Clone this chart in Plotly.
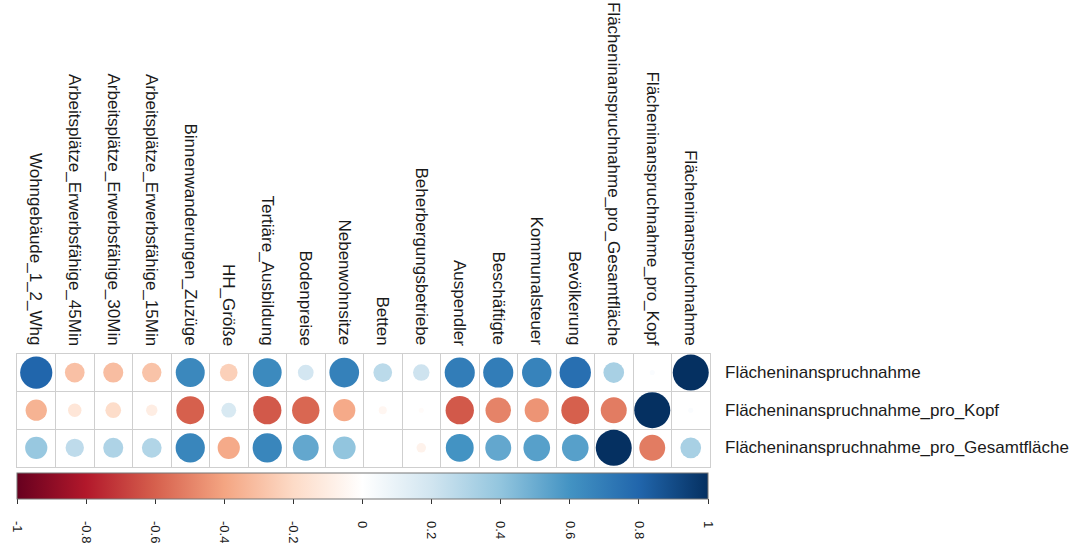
import plotly.graph_objects as go

# Variables shown along the columns of the correlation grid
COLUMNS = [
    "Wohngebäude_1_2_Whg",
    "Arbeitsplätze_Erwerbsfähige_45Min",
    "Arbeitsplätze_Erwerbsfähige_30Min",
    "Arbeitsplätze_Erwerbsfähige_15Min",
    "Binnenwanderungen_Zuzüge",
    "HH_Größe",
    "Tertiäre_Ausbildung",
    "Bodenpreise",
    "Nebenwohnsitze",
    "Betten",
    "Beherbergungsbetriebe",
    "Auspendler",
    "Beschäftigte",
    "Kommunalsteuer",
    "Bevölkerung",
    "Flächeninanspruchnahme_pro_Gesamtfläche",
    "Flächeninanspruchnahme_pro_Kopf",
    "Flächeninanspruchnahme",
]

# Target variables shown along the rows
ROWS = [
    "Flächeninanspruchnahme",
    "Flächeninanspruchnahme_pro_Kopf",
    "Flächeninanspruchnahme_pro_Gesamtfläche",
]

# Correlation coefficients, one list per row (same order as COLUMNS)
CORR_FLAECHE = [0.80, -0.30, -0.31, -0.29, 0.65, -0.24, 0.64, 0.19, 0.68, 0.27,
                0.21, 0.70, 0.70, 0.67, 0.76, 0.33, 0.02, 1.00]
CORR_KOPF = [-0.35, -0.14, -0.19, -0.10, -0.60, 0.17, -0.62, -0.58, -0.38, -0.05,
             -0.02, -0.62, -0.50, -0.45, -0.60, -0.52, 1.00, 0.02]
CORR_GESAMT = [0.38, 0.26, 0.31, 0.30, 0.66, -0.38, 0.66, 0.52, 0.40, 0.00,
               -0.07, 0.60, 0.52, 0.55, 0.55, 1.00, -0.52, 0.33]
CORR_ROWS = [CORR_FLAECHE, CORR_KOPF, CORR_GESAMT]

# Colour bar ticks
CBAR_TICKS = [-1, -0.8, -0.6, -0.4, -0.2, 0, 0.2, 0.4, 0.6, 0.8, 1]
CBAR_LABELS = ["-1", "-0.8", "-0.6", "-0.4", "-0.2", "0", "0.2", "0.4", "0.6", "0.8", "1"]

# ColorBrewer RdBu (diverging), dark red at -1 to dark blue at +1
RDBU = ["#67001F", "#B2182B", "#D6604D", "#F4A582", "#FDDBC7", "#FFFFFF",
        "#D1E5F0", "#92C5DE", "#4393C3", "#2166AC", "#053061"]
COLORSCALE = [[i / (len(RDBU) - 1), c] for i, c in enumerate(RDBU)]

W, H = 1080, 544
GRID_LEFT, GRID_RIGHT = 17, 710
GRID_TOP, GRID_BOTTOM = 357, 471
MAX_DIAM = 36  # circle diameter (px) for |r| = 1
FONT = "Liberation Sans, Arial, sans-serif"
TEXT_COLOR = "#1a1a1a"
GRID_COLOR = "#cfcfcf"

xs, ys, vals, sizes = [], [], [], []
for ri, row_vals in enumerate(CORR_ROWS):
    for ci, v in enumerate(row_vals):
        xs.append(ci + 1)
        ys.append(ri + 1)
        vals.append(v)
        # circle area proportional to |r|
        sizes.append(MAX_DIAM * abs(v) ** 0.5)

pad = "\u00a0" * 4
fig = go.Figure(
    go.Scatter(
        x=xs,
        y=ys,
        mode="markers",
        hoverinfo="text",
        text=[f"{v:.2f}" for v in vals],
        marker=dict(
            size=sizes,
            opacity=1,
            color=vals,
            colorscale=COLORSCALE,
            cmin=-1,
            cmax=1,
            line=dict(width=0),
            showscale=True,
            colorbar=dict(
                orientation="h",
                x=GRID_LEFT / W,
                xanchor="left",
                y=1 - 477 / H,
                yanchor="top",
                lenmode="pixels",
                len=GRID_RIGHT - GRID_LEFT - 2,
                thickness=26,
                xpad=0,
                ypad=0,
                outlinewidth=1,
                outlinecolor="#777777",
                tickmode="array",
                tickvals=CBAR_TICKS,
                ticktext=[pad + t for t in CBAR_LABELS],
                ticks="outside",
                ticklen=5,
                tickcolor="#333333",
                tickangle=90,
                tickfont=dict(family=FONT, size=13, color=TEXT_COLOR),
            ),
        ),
    )
)

n_cols, n_rows = len(COLUMNS), len(ROWS)
fig.update_xaxes(
    domain=[GRID_LEFT / W, GRID_RIGHT / W],
    range=[0.5, n_cols + 0.5],
    tickmode="array",
    tickvals=[i + 0.5 for i in range(n_cols + 1)],
    showticklabels=False,
    ticks="",
    showgrid=True,
    gridcolor=GRID_COLOR,
    gridwidth=1,
    zeroline=False,
    showline=True,
    linecolor=GRID_COLOR,
    mirror=True,
    fixedrange=True,
)
fig.update_yaxes(
    domain=[1 - GRID_BOTTOM / H, 1 - GRID_TOP / H],
    range=[n_rows + 0.5, 0.5],
    tickmode="array",
    tickvals=[i + 0.5 for i in range(n_rows + 1)],
    showticklabels=False,
    ticks="",
    showgrid=True,
    gridcolor=GRID_COLOR,
    gridwidth=1,
    zeroline=False,
    showline=True,
    linecolor=GRID_COLOR,
    mirror=True,
    fixedrange=True,
)

annotations = []
# Column labels, rotated, ending just above the grid
for ci, name in enumerate(COLUMNS):
    annotations.append(dict(
        x=ci + 1, xref="x",
        y=1 - GRID_TOP / H, yref="paper",
        text=name, textangle=90,
        xanchor="center", yanchor="bottom",
        yshift=6,
        showarrow=False,
        font=dict(family=FONT, size=17, color=TEXT_COLOR),
    ))
# Row labels to the right of the grid
for ri, name in enumerate(ROWS):
    annotations.append(dict(
        x=723 / W, xref="paper",
        y=ri + 1, yref="y",
        text=name,
        xanchor="left", yanchor="middle",
        showarrow=False,
        font=dict(family=FONT, size=17, color=TEXT_COLOR),
    ))

fig.update_layout(
    width=W,
    height=H,
    margin=dict(l=0, r=0, t=0, b=0),
    paper_bgcolor="white",
    plot_bgcolor="white",
    showlegend=False,
    annotations=annotations,
)

fig.write_html("out.html")
